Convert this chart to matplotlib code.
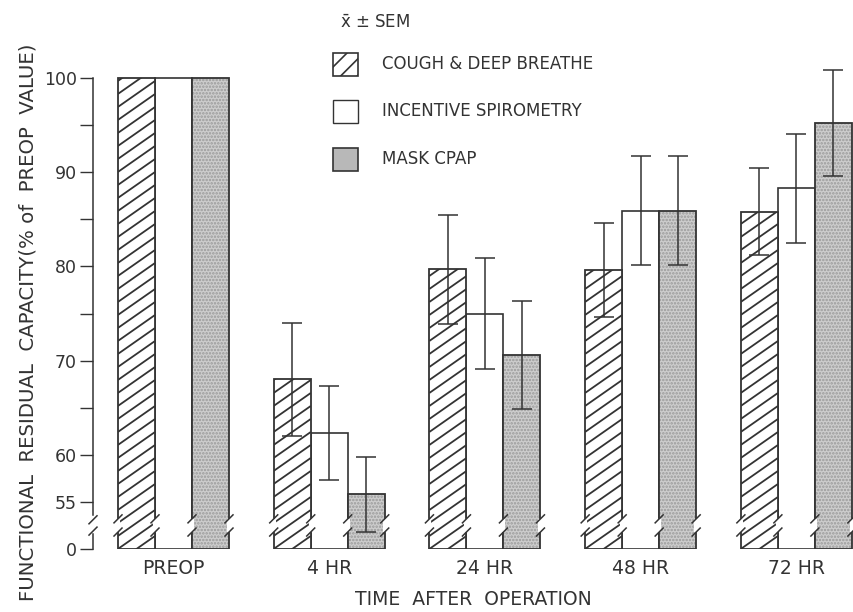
import numpy as np
import matplotlib
matplotlib.use('Agg')
import matplotlib.pyplot as plt
from matplotlib.patches import Rectangle

# data (% of preop FRC), 0..4 = PREOP, 4, 24, 48, 72 HR
groups = ['PREOP', '4 HR', '24 HR', '48 HR', '72 HR']
cough = [100, 68.0, 79.7, 79.6, 85.8]
cough_sem = [0, 6.0, 5.8, 5.0, 4.6]
incentive = [100, 62.3, 75.0, 85.9, 88.3]
incentive_sem = [0, 5.0, 5.9, 5.8, 5.8]
cpap = [100, 55.8, 70.6, 85.9, 95.2]
cpap_sem = [0, 4.0, 5.7, 5.8, 5.6]

ytick_pos = [50, 55, 60, 65, 70, 75, 80, 85, 90, 95, 100]
ytick_lab = ['0', '55', '60', '', '70', '', '80', '', '90', '', '100']

ink = '#333333'
grey = '#cdcdcd'
base = 50   # where "0" sits on the broken axis

plt.rcParams['font.family'] = 'DejaVu Sans'
plt.rcParams['mathtext.fontset'] = 'dejavusans'
plt.rcParams['hatch.linewidth'] = 1.2

fig = plt.figure(figsize=(8.54, 6.12), dpi=100)
ax = fig.add_axes([93/854, 63/612, 761/854, 519/612])
xmin, xmax = -0.517, 4.37
ymin, ymax = 50, 50 + 519/9.42
ax.set_xlim(xmin, xmax)
ax.set_ylim(ymin, ymax)
sx = 761 / (xmax - xmin)
sy = 519 / (ymax - ymin)

w = 37 / sx
x = np.arange(len(groups))
xc = x - w
xi = x
xg = x + w

# bars
b1 = ax.bar(xc, np.array(cough) - base, w, bottom=base, color='white',
            edgecolor=ink, linewidth=1.3, zorder=2)
b2 = ax.bar(xi, np.array(incentive) - base, w, bottom=base, color='white',
            edgecolor=ink, linewidth=1.2, zorder=1.5)
b3 = ax.bar(xg, np.array(cpap) - base, w, bottom=base, color=grey,
            edgecolor='none', zorder=2)
ax.bar(xg, np.array(cpap) - base, w, bottom=base, color='none',
       edgecolor='#9a9a9a', hatch='.....', linewidth=0, zorder=2.1)
ax.bar(xg, np.array(cpap) - base, w, bottom=base, color='none',
       edgecolor=ink, linewidth=1.3, zorder=2.2)

# slanted hatching (about 35 deg) clipped to the hatched bars
k = 0.7 * sx / sy
step = 13 / sy
for r in b1:
    x0 = r.get_x()
    top = r.get_y() + r.get_height()
    for y0 in np.arange(base - k * w, top, step):
        ln, = ax.plot([x0, x0 + w], [y0, y0 + k * w], color=ink, lw=1.3,
                      zorder=2.05, solid_capstyle='butt')
        ln.set_clip_path(r)

# error bars
for xs, vals, sem in [(xc, cough, cough_sem), (xi, incentive, incentive_sem),
                      (xg, cpap, cpap_sem)]:
    xs = xs[1:]
    ax.errorbar(xs, vals[1:], yerr=sem[1:], fmt='none', ecolor=ink,
                elinewidth=1.1, capsize=7, capthick=1.1, zorder=4)

# axis with break
for s in ['top', 'right', 'bottom', 'left']:
    ax.spines[s].set_visible(False)
ax.plot([xmin, xmin], [100, 53.6], color=ink, lw=1.1, clip_on=False)
ax.plot([xmin, xmin], [51.6, 50], color=ink, lw=1.1, clip_on=False)
dx, dy = 4 / sx, 4 / sy
for yb in [53.1, 51.9]:
    ax.plot([xmin - dx, xmin + dx], [yb - dy, yb + dy], color=ink, lw=1.1,
            clip_on=False, zorder=5)

# breaks in the bars
for i in range(len(groups)):
    for ex in [xc[i] - w/2, xc[i] + w/2, xg[i] - w/2, xg[i] + w/2]:
        ax.plot([ex, ex], [52.0, 53.0], color='white', lw=3, zorder=4.5)
        for yb in [53.2, 51.8]:
            ax.plot([ex - dx, ex + dx], [yb - dy, yb + dy], color=ink,
                    lw=1.1, zorder=5)

ax.set_yticks(ytick_pos)
ax.set_yticklabels(ytick_lab)
ax.tick_params(axis='y', direction='out', length=9.5, width=1.0,
               color=ink, labelcolor=ink, labelsize=12.5, pad=2)
ax.set_xticks(x)
ax.set_xticklabels(groups)
ax.tick_params(axis='x', length=0, labelcolor=ink, labelsize=13.5, pad=7)

ax.set_xlabel('TIME  AFTER  OPERATION', color=ink, fontsize=13.5, labelpad=9)
fig.text(28/854, 1 - 322/612, 'FUNCTIONAL  RESIDUAL  CAPACITY(% of  PREOP  VALUE)',
         rotation=90, ha='center', va='center', color=ink, fontsize=14.2)

# legend
fig.text(340/854, 1 - 23/612, r'$\bar{\mathrm{x}}$ $\pm$ SEM', color=ink,
         fontsize=12, va='center', ha='left')
labels = ['COUGH & DEEP BREATHE', 'INCENTIVE SPIROMETRY', 'MASK CPAP']
ycen = [64, 111, 159]
for lab, yc, sty in zip(labels, ycen, ['hatch', 'white', 'grey']):
    fx, fy = 333/854, 1 - (yc + 11.5)/612
    fw, fh = 25/854, 23/612
    if sty == 'hatch':
        p = Rectangle((fx, fy), fw, fh, transform=fig.transFigure,
                      facecolor='white', edgecolor=ink, hatch='//', lw=1.2)
    elif sty == 'white':
        p = Rectangle((fx, fy), fw, fh, transform=fig.transFigure,
                      facecolor='white', edgecolor=ink, lw=1.0)
    else:
        p = Rectangle((fx, fy), fw, fh, transform=fig.transFigure,
                      facecolor='#b8b8b8', edgecolor=ink, lw=1.2)
    fig.patches.append(p)
    fig.text(382/854, 1 - yc/612, lab, color=ink, fontsize=12,
             va='center', ha='left')

fig.savefig('out.png', dpi=100)
